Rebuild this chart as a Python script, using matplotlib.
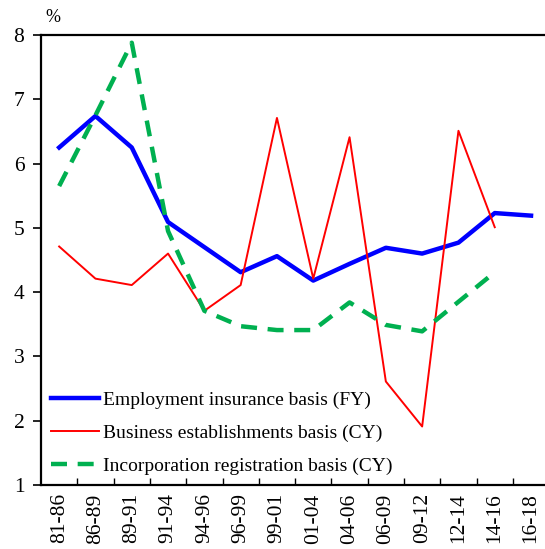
import matplotlib
matplotlib.use("Agg")
import matplotlib.pyplot as plt
import numpy as np

categories = ["81-86", "86-89", "89-91", "91-94", "94-96", "96-99", "99-01",
              "01-04", "04-06", "06-09", "09-12", "12-14", "14-16", "16-18"]
employment = [6.25, 6.74, 6.25, 5.09, 4.70, 4.31, 4.56, 4.18, 4.44, 4.69, 4.60, 4.77, 5.23, 5.19]
business = [4.71, 4.21, 4.11, 4.60, 3.71, 4.11, 6.71, 4.21, 6.41, 2.61, 1.91, 6.51, 5.01, None]
incorporation = [5.65, 6.75, 7.88, 4.95, 3.71, 3.47, 3.41, 3.41, 3.84, 3.49, 3.39, 3.85, 4.31, None]

plt.rcParams['font.family'] = ['Liberation Serif', 'DejaVu Serif']

fig = plt.figure(figsize=(5.45, 5.49), dpi=100)
ax = fig.add_axes([41/545, 1-485/549, 1-41/545, (485-35)/549])

x = np.arange(len(categories))
def arr(v):
    return np.array([np.nan if a is None else a for a in v], dtype=float)

ax.plot(x, arr(employment), color='#0000FF', lw=3.2,
        label='Employment insurance basis (FY)')
ax.plot(x, arr(business), color='#FF0000', lw=1.4,
        label='Business establishments basis (CY)')
ax.plot(x, arr(incorporation), color='#00B050', lw=3.2, dashes=(3.6, 2.4),
        label='Incorporation registration basis (CY)')

ax.set_ylim(1, 8)
ax.set_yticks(range(1, 9))
ax.set_xlim(-0.5, -0.5 + 504/36.3)
ax.set_xticks(x)
ax.set_xticklabels(categories, rotation=90, fontsize=15.5)
ax.set_xticks(np.arange(0.5, len(categories) - 1, 1), minor=True)
ax.tick_params(axis='x', which='major', length=0, pad=6)
ax.tick_params(axis='x', which='minor', direction='in', length=5, width=1)
ax.tick_params(axis='y', direction='out', length=6, width=1.2, labelsize=15.5, pad=6)

for s in ['left', 'bottom', 'top']:
    ax.spines[s].set_linewidth(1.6)
ax.spines['right'].set_visible(False)

ax.text(45/545, 1-18/549, '%', transform=fig.transFigure, fontsize=13,
        ha='left', va='center')

leg = ax.legend(loc='lower left', bbox_to_anchor=(0.0, 0.0), frameon=False,
                fontsize=14, handlelength=2.5, handletextpad=0.2,
                labelspacing=0.8, borderaxespad=0.3, borderpad=0.2)

fig.savefig('out.png', dpi=100)
